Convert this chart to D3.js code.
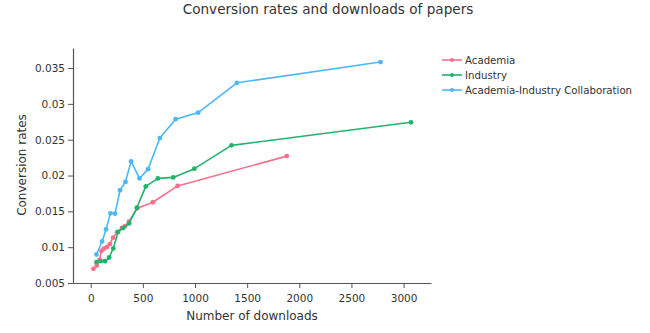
<!DOCTYPE html>
<html>
<head>
<meta charset="utf-8">
<script src="https://cdn.jsdelivr.net/npm/d3@7"></script>
<style>
  html, body { margin: 0; padding: 0; background: #fff; }
  svg { display: block; font-family: "DejaVu Sans", Verdana, sans-serif; }
</style>
</head>
<body>
<svg id="chart" width="650" height="333"></svg>
<script>
// Downloads (x) and conversion rates (y) per group
const academiaDownloads = [26, 58, 84, 103, 125, 154, 183, 214, 253, 300, 330, 367, 447, 596, 833, 1880];
const academiaRates = [0.00698, 0.00744, 0.00824, 0.00947, 0.00978, 0.0100, 0.01042, 0.01132, 0.0121, 0.01269, 0.01295, 0.01358, 0.01543, 0.01627, 0.01855, 0.02271];

const industryDownloads = [55, 96, 137, 176, 216, 262, 310, 368, 442, 528, 644, 791, 994, 1350, 3071];
const industryRates = [0.0079, 0.00804, 0.00804, 0.00856, 0.00982, 0.01213, 0.01267, 0.01332, 0.0155, 0.01848, 0.0196, 0.01974, 0.02096, 0.02421, 0.02743];

const collabDownloads = [55, 109, 147, 189, 233, 281, 333, 387, 468, 550, 663, 814, 1030, 1402, 2779];
const collabRates = [0.00898, 0.0108, 0.01248, 0.01473, 0.01468, 0.01795, 0.01911, 0.02197, 0.01959, 0.02089, 0.02523, 0.02786, 0.02878, 0.03294, 0.03584];

const seriesNames = ["Academia", "Industry", "Academia-Industry Collaboration"];
const seriesColors = ["#fc6e8b", "#20b36b", "#4cb8f8"];
const xTicks = [0, 500, 1000, 1500, 2000, 2500, 3000];
const yTicks = [0.005, 0.01, 0.015, 0.02, 0.025, 0.03, 0.035];

const series = [
  { name: seriesNames[0], color: seriesColors[0], xs: academiaDownloads, ys: academiaRates },
  { name: seriesNames[1], color: seriesColors[1], xs: industryDownloads, ys: industryRates },
  { name: seriesNames[2], color: seriesColors[2], xs: collabDownloads, ys: collabRates }
];

const svg = d3.select("#chart");
const plotLeft = 73, plotRight = 431, plotTop = 48, plotBottom = 283;

const x = d3.scaleLinear().domain([-170, 3263]).range([plotLeft, plotRight]);
const y = d3.scaleLinear().domain([0.005, 0.0378]).range([plotBottom, plotTop]);

const axisColor = "#555";
const textColor = "#333";

// x axis
const gx = svg.append("g").attr("transform", `translate(0,${plotBottom})`)
  .call(d3.axisBottom(x).tickValues(xTicks).tickSize(5).tickSizeOuter(0).tickFormat(d3.format("d")));
gx.select(".domain").attr("stroke", axisColor).attr("stroke-width", 1.2);
gx.selectAll(".tick line").attr("stroke", axisColor);
gx.selectAll(".tick text").attr("fill", textColor).attr("font-size", 10.5)
  .attr("font-family", "DejaVu Sans, Verdana, sans-serif").attr("dy", "1.0em");

// y axis
const gy = svg.append("g").attr("transform", `translate(${plotLeft},0)`)
  .call(d3.axisLeft(y).tickValues(yTicks).tickSize(5).tickSizeOuter(0).tickFormat(d => String(+d.toFixed(3))));
gy.select(".domain").attr("stroke", axisColor).attr("stroke-width", 1.2);
gy.selectAll(".tick line").attr("stroke", axisColor);
gy.selectAll(".tick text").attr("fill", textColor).attr("font-size", 10.5)
  .attr("font-family", "DejaVu Sans, Verdana, sans-serif");

// lines and markers
const line = d3.line().x(d => x(d[0])).y(d => y(d[1]));
series.forEach(s => {
  const pts = s.xs.map((v, i) => [v, s.ys[i]]);
  svg.append("path").datum(pts)
    .attr("fill", "none").attr("stroke", s.color).attr("stroke-width", 1.6)
    .attr("stroke-linejoin", "round").attr("d", line);
  svg.append("g").selectAll("circle").data(pts).join("circle")
    .attr("cx", d => x(d[0])).attr("cy", d => y(d[1])).attr("r", 2.4)
    .attr("fill", s.color);
});

// legend
const legend = svg.append("g");
series.forEach((s, i) => {
  const ly = 60 + i * 15;
  legend.append("line").attr("x1", 442).attr("x2", 462).attr("y1", ly).attr("y2", ly)
    .attr("stroke", s.color).attr("stroke-width", 1.6);
  legend.append("circle").attr("cx", 452).attr("cy", ly).attr("r", 2.1).attr("fill", s.color);
  legend.append("text").attr("x", 465).attr("y", ly).attr("dy", "0.35em")
    .attr("font-size", 10.2).attr("fill", textColor).text(s.name);
});

// title and axis titles
svg.append("text").attr("x", 328).attr("y", 14).attr("text-anchor", "middle")
  .attr("font-size", 13.6).attr("fill", textColor).text("Conversion rates and downloads of papers");
svg.append("text").attr("x", 252).attr("y", 320).attr("text-anchor", "middle")
  .attr("font-size", 12).attr("fill", textColor).text("Number of downloads");
svg.append("text").attr("transform", "translate(26,165) rotate(-90)").attr("text-anchor", "middle")
  .attr("font-size", 12).attr("fill", textColor).text("Conversion rates");
</script>
</body>
</html>
